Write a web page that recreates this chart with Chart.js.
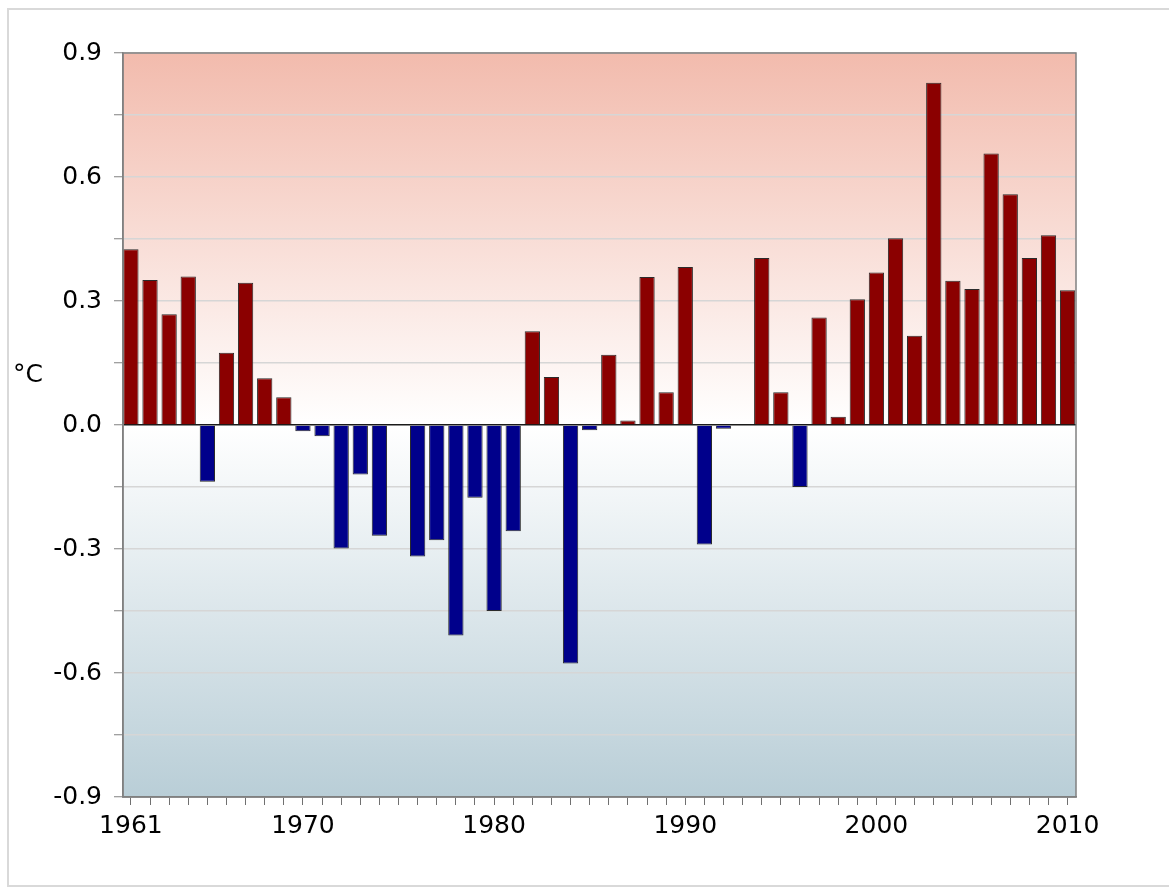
<!DOCTYPE html>
<html>
<head>
<meta charset="utf-8">
<script src="https://cdn.jsdelivr.net/npm/chart.js@4/dist/chart.umd.min.js"></script>
<style>
  html, body { margin: 0; padding: 0; background: #fff; overflow: hidden; }
  #frame {
    position: absolute; left: 7px; top: 8px; width: 1180px; height: 879px;
    border: 2px solid #d9d9d9; box-sizing: border-box;
  }
  #chart { position: absolute; left: 0; top: 0; }
</style>
</head>
<body>
<div id="frame"></div>
<canvas id="chart" width="1169" height="892"></canvas>
<script>
// Yearly temperature anomaly (°C), 1961-2010
const years = [];
for (let y = 1961; y <= 2010; y++) years.push(y);

const anomalies = [
  0.425, 0.351, 0.268, 0.359, -0.137, 0.175, 0.344, 0.113, 0.067, -0.015,
  -0.027, -0.299, -0.120, -0.268, 0.000, -0.318, -0.279, -0.509, -0.176, -0.450,
  -0.257, 0.227, 0.116, -0.577, -0.013, 0.170, 0.011, 0.358, 0.079, 0.382,
  -0.289, -0.009, 0.000, 0.404, 0.079, -0.150, 0.260, 0.020, 0.304, 0.369,
  0.452, 0.216, 0.828, 0.349, 0.329, 0.657, 0.558, 0.404, 0.459, 0.326
];

const labelledYears = [1961, 1970, 1980, 1990, 2000, 2010];
const yTickLabels = [-0.9, -0.6, -0.3, 0.0, 0.3, 0.6, 0.9];

const warmColor = "#8b0000";
const coldColor = "#00008b";

// Gradient behind the plot: salmon above zero, blue-grey below
const backgroundPlugin = {
  id: "plotBackground",
  beforeDraw(chart) {
    const { ctx, chartArea } = chart;
    const yScale = chart.scales.y;
    const zero = yScale.getPixelForValue(0);
    const stop = (zero - chartArea.top) / (chartArea.bottom - chartArea.top);
    const g = ctx.createLinearGradient(0, chartArea.top, 0, chartArea.bottom);
    g.addColorStop(0, "#f2bbad");
    g.addColorStop(stop, "#ffffff");
    g.addColorStop(1, "#b9ced7");
    ctx.save();
    ctx.fillStyle = g;
    ctx.fillRect(chartArea.left, chartArea.top, chartArea.right - chartArea.left, chartArea.bottom - chartArea.top);
    ctx.restore();
  },
  afterDraw(chart) {
    const { ctx, chartArea } = chart;
    ctx.save();
    // plot frame
    ctx.strokeStyle = "#808080";
    ctx.lineWidth = 1.5;
    ctx.strokeRect(chartArea.left, chartArea.top, chartArea.right - chartArea.left, chartArea.bottom - chartArea.top);
    // unit label
    ctx.fillStyle = "#000";
    ctx.font = "25px 'DejaVu Sans'";
    ctx.textAlign = "center";
    ctx.textBaseline = "middle";
    ctx.fillText("°C", 28, 375);
    ctx.restore();
  }
};

const ctx = document.getElementById("chart").getContext("2d");
new Chart(ctx, {
  type: "bar",
  data: {
    datasets: [
      {
        label: "Anomaly (°C)",
        data: years.map((y, i) => ({ x: y, y: anomalies[i] })),
        backgroundColor: (c) => (c.raw && c.raw.y < 0 ? coldColor : warmColor),
        borderColor: "#2b2b2b",
        borderWidth: 1,
        categoryPercentage: 1,
        barPercentage: 0.8,
      },
    ],
  },
  options: {
    responsive: false,
    animation: false,
    devicePixelRatio: 1,
    layout: { padding: { left: 0, top: 53, right: 93, bottom: 0 } },
    plugins: { legend: { display: false }, tooltip: { enabled: false } },
    scales: {
      x: {
        type: "linear",
        min: 1960.587,
        max: 2010.44,
        offset: false,
        afterFit: (s) => { s.height = 95; },
        border: { color: "#808080", width: 1.5 },
        grid: { drawOnChartArea: false, offset: false, tickLength: 8, tickColor: "#707070", tickWidth: 1 },
        ticks: {
          stepSize: 1,
          autoSkip: false,
          includeBounds: false,
          maxRotation: 0,
          padding: 6,
          color: "#000",
          font: { family: "'DejaVu Sans'", size: 25 },
          callback: (v) => (labelledYears.includes(v) ? String(v) : ""),
        },
      },
      y: {
        min: -0.9,
        max: 0.9,
        afterFit: (s) => { s.width = 123; },
        border: { color: "#808080", width: 1.5 },
        grid: {
          color: (c) => (c.tick && Math.abs(c.tick.value) < 1e-9 ? "#1a1a1a" : "#d6d6d6"),
          lineWidth: (c) => (c.tick && Math.abs(c.tick.value) < 1e-9 ? 1.5 : 1.5),
          tickLength: 9,
          tickColor: "#808080",
          tickWidth: 1,
        },
        ticks: {
          stepSize: 0.15,
          padding: 12,
          color: "#000",
          font: { family: "'DejaVu Sans'", size: 25 },
          callback: (v) => {
            const hit = yTickLabels.find((t) => Math.abs(t - v) < 1e-6);
            return hit === undefined ? "" : hit.toFixed(1);
          },
        },
      },
    },
  },
  plugins: [backgroundPlugin],
});
</script>
</body>
</html>
